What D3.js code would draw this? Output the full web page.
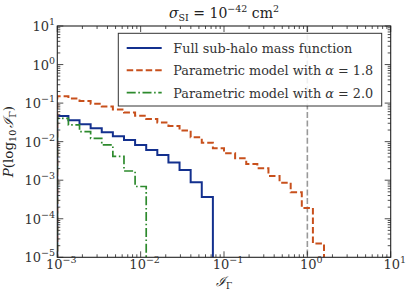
<!DOCTYPE html>
<html>
<head>
<meta charset="utf-8">
<script src="https://cdn.jsdelivr.net/npm/d3@7"></script>
<style>
  body { margin: 0; background: #fff; }
</style>
</head>
<body>
<div id="chart"></div>
<script>
// Histogram bins: 30 log-spaced bins from 1e-3 to 1e1
const binLogStart = -3
const binLogWidth = 4 / 30

// Probability per bin
const fullSubHalo = [0.0463, 0.0358, 0.0282, 0.0222, 0.0175, 0.0138, 0.0110, 0.0082,
  0.0061, 0.0045, 0.0029, 0.00184, 0.00088, 0.000366]
const alpha18 = [0.150, 0.1315, 0.1133, 0.0964, 0.0816, 0.0683, 0.0571, 0.0471,
  0.0387, 0.0314, 0.0255, 0.0195, 0.0130, 0.0094, 0.00673, 0.00499, 0.00370,
  0.00263, 0.00204, 0.00129, 0.00086, 0.000485, 0.00019, 0.0000228]
const alpha20 = [0.0403, 0.0271, 0.0181, 0.0122, 0.0082, 0.00417, 0.00173, 0.000687]

const seriesNames = ["Full sub-halo mass function", "Parametric model with ", "Parametric model with "]
const seriesAlpha = [null, "1.8", "2.0"]
const xExponents = [-3, -2, -1, 0, 1]
const yExponents = [-5, -4, -3, -2, -1, 0, 1]
const thresholdX = 1

const width = 407, height = 299
const margin = {top: 26, right: 16.3, bottom: 41.7, left: 57.3}
const serif = "DejaVu Serif"

const svg = d3.select("#chart").append("svg")
  .attr("width", width).attr("height", height)
  .attr("font-family", serif)
  .style("font-family", serif)

const x = d3.scaleLog().domain([1e-3, 1e1]).range([margin.left, width - margin.right])
const y = d3.scaleLog().domain([1e-5, 1e1]).range([height - margin.bottom, margin.top])

svg.append("clipPath").attr("id", "clip")
  .append("rect")
    .attr("x", margin.left).attr("y", margin.top)
    .attr("width", x.range()[1] - margin.left)
    .attr("height", y.range()[0] - margin.top)

// step outline for a histogram
function stepPoints(vals) {
  const pts = [[Math.pow(10, binLogStart), 1e-9]]
  vals.forEach((v, i) => {
    const a = Math.pow(10, binLogStart + i * binLogWidth)
    const b = Math.pow(10, binLogStart + (i + 1) * binLogWidth)
    pts.push([a, v], [b, v])
  })
  pts.push([Math.pow(10, binLogStart + vals.length * binLogWidth), 1e-9])
  return pts
}
const line = d3.line()
  .x(d => x(d[0]))
  .y(d => Math.min(y(d[1]), height))

const plot = svg.append("g").attr("clip-path", "url(#clip)")

// threshold line
plot.append("line")
  .attr("x1", x(thresholdX)).attr("x2", x(thresholdX))
  .attr("y1", margin.top).attr("y2", y.range()[0])
  .attr("stroke", "#999").attr("stroke-width", 1.6)
  .attr("stroke-dasharray", "6,2.6")

const styles = [
  {color: "#13308e", dash: null, w: 2},
  {color: "#c8501c", dash: "6.5,3", w: 2},
  {color: "#2d8a2d", dash: "9,2.6,1.6,2.6", w: 1.7}
]
const allSeries = [fullSubHalo, alpha18, alpha20]

allSeries.forEach((vals, i) => {
  plot.append("path")
    .attr("d", line(stepPoints(vals)))
    .attr("fill", "none")
    .attr("stroke", styles[i].color)
    .attr("stroke-width", styles[i].w)
    .attr("stroke-dasharray", styles[i].dash)
    .attr("stroke-linejoin", "miter")
})

// ticks, inward, on all four sides
const x0 = margin.left, x1 = x.range()[1], y0 = y.range()[0], y1 = margin.top
const ticksG = svg.append("g").attr("stroke", "#222").attr("stroke-width", 0.8)
function minorList(exps) {
  const out = []
  for (let e = exps[0]; e < exps[exps.length - 1]; e++)
    for (let m = 2; m < 10; m++) out.push(m * Math.pow(10, e))
  return out
}
xExponents.forEach(e => {
  const px = x(Math.pow(10, e))
  ticksG.append("line").attr("x1", px).attr("x2", px).attr("y1", y0).attr("y2", y0 - 6)
  ticksG.append("line").attr("x1", px).attr("x2", px).attr("y1", y1).attr("y2", y1 + 6)
})
minorList(xExponents).forEach(v => {
  const px = x(v)
  ticksG.append("line").attr("x1", px).attr("x2", px).attr("y1", y0).attr("y2", y0 - 3)
  ticksG.append("line").attr("x1", px).attr("x2", px).attr("y1", y1).attr("y2", y1 + 3)
})
yExponents.forEach(e => {
  const py = y(Math.pow(10, e))
  ticksG.append("line").attr("y1", py).attr("y2", py).attr("x1", x0).attr("x2", x0 + 6)
  ticksG.append("line").attr("y1", py).attr("y2", py).attr("x1", x1).attr("x2", x1 - 6)
})
minorList(yExponents).forEach(v => {
  const py = y(v)
  ticksG.append("line").attr("y1", py).attr("y2", py).attr("x1", x0).attr("x2", x0 + 3)
  ticksG.append("line").attr("y1", py).attr("y2", py).attr("x1", x1).attr("x2", x1 - 3)
})

svg.append("rect")
  .attr("x", x0).attr("y", y1).attr("width", x1 - x0).attr("height", y0 - y1)
  .attr("fill", "none").attr("stroke", "#222").attr("stroke-width", 1.1)

// tick labels
function powLabel(g, e) {
  g.append("tspan").text("10")
  g.append("tspan").attr("dy", -6).attr("font-size", 9.5)
    .text(e < 0 ? "\u2212" + (-e) : String(e))
}
xExponents.forEach(e => {
  const t = svg.append("text")
    .attr("x", x(Math.pow(10, e)) + 4).attr("y", 269)
    .attr("text-anchor", "middle").attr("font-size", 13).attr("fill", "#333")
  powLabel(t, e)
})
yExponents.forEach(e => {
  const t = svg.append("text")
    .attr("x", 55).attr("y", y(Math.pow(10, e)) + 5)
    .attr("text-anchor", "end").attr("font-size", 13).attr("fill", "#333")
  powLabel(t, e)
})

// axis labels
const xl = svg.append("text").attr("x", (x0 + x1) / 2).attr("y", 286)
  .attr("text-anchor", "middle").attr("font-size", 13).attr("fill", "#222")
xl.append("tspan").attr("font-style", "italic").text("\u2110")
xl.append("tspan").attr("dy", 3).attr("font-size", 9).text("\u0393")

const yl = svg.append("text")
  .attr("transform", `translate(13,${(y0 + y1) / 2}) rotate(-90)`)
  .attr("text-anchor", "middle").attr("font-size", 13.5).attr("fill", "#222")
yl.append("tspan").attr("font-style", "italic").text("P")
yl.append("tspan").text("(log")
yl.append("tspan").attr("dy", 3).attr("font-size", 9.5).text("10")
yl.append("tspan").attr("dy", -3).attr("dx", 2).attr("font-style", "italic").text("\u2110")
yl.append("tspan").attr("dy", 3).attr("font-size", 9.5).text("\u0393")
yl.append("tspan").attr("dy", -3).text(")")

// title
const title = svg.append("text").attr("x", (x0 + x1) / 2).attr("y", 18)
  .attr("text-anchor", "middle").attr("font-size", 14).attr("fill", "#222")
title.append("tspan").attr("font-style", "italic").text("\u03c3")
title.append("tspan").attr("dy", 3).attr("font-size", 9.5).text("SI")
title.append("tspan").attr("dy", -3).text(" = 10")
title.append("tspan").attr("dy", -6).attr("font-size", 9.5).text("\u221242")
title.append("tspan").attr("dy", 6).text(" cm")
title.append("tspan").attr("dy", -6).attr("font-size", 9.5).text("2")

// legend
const legend = svg.append("g")
legend.append("rect")
  .attr("x", 118.3).attr("y", 33.3).attr("width", 263.4).attr("height", 72.7)
  .attr("fill", "#fff").attr("fill-opacity", 0.85)
  .attr("stroke", "#333").attr("stroke-width", 1)
seriesNames.forEach((name, i) => {
  const cy = 48 + i * 22.3
  legend.append("line")
    .attr("x1", 126.7).attr("x2", 161.7).attr("y1", cy).attr("y2", cy)
    .attr("stroke", styles[i].color).attr("stroke-width", styles[i].w)
    .attr("stroke-dasharray", styles[i].dash)
  const t = legend.append("text").attr("x", 173.3).attr("y", cy + 5)
    .attr("font-size", 12.8).attr("fill", "#333")
  t.append("tspan").text(name)
  if (seriesAlpha[i]) {
    t.append("tspan").attr("font-style", "italic").text("\u03b1")
    t.append("tspan").text(" = " + seriesAlpha[i])
  }
})
</script>
</body>
</html>
